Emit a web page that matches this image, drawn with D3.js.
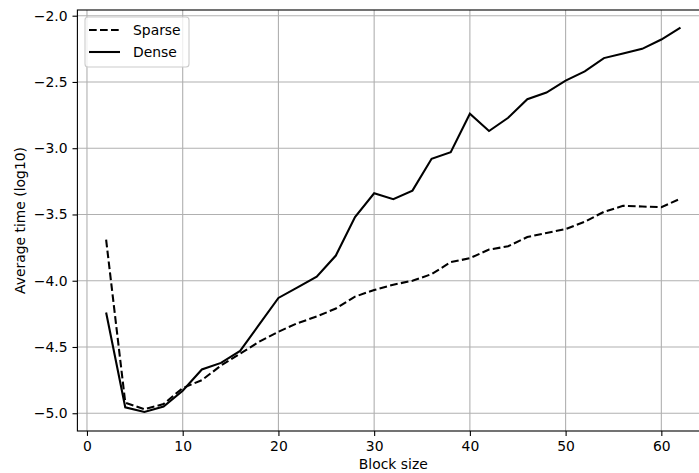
<!DOCTYPE html>
<html><head><meta charset="utf-8">
<script src="https://cdn.jsdelivr.net/npm/d3@7"></script>
<style>body{margin:0;background:#fff;} svg{display:block;font-family:"DejaVu Sans",sans-serif;}</style>
</head><body>
<svg id="c" width="699" height="473"></svg>
<script>
const blockSizes = [2,4,6,8,10,12,14,16,18,20,22,24,26,28,30,32,34,36,38,40,42,44,46,48,50,52,54,56,58,60,62];
const sparse = [-3.69,-4.92,-4.97,-4.93,-4.81,-4.75,-4.64,-4.55,-4.46,-4.385,-4.32,-4.27,-4.21,-4.12,-4.07,-4.03,-4.00,-3.95,-3.86,-3.83,-3.765,-3.74,-3.67,-3.64,-3.61,-3.555,-3.48,-3.435,-3.44,-3.445,-3.38];
const dense = [-4.24,-4.955,-4.99,-4.95,-4.83,-4.67,-4.62,-4.53,-4.33,-4.13,-4.05,-3.97,-3.81,-3.52,-3.34,-3.385,-3.32,-3.08,-3.03,-2.74,-2.87,-2.77,-2.63,-2.58,-2.49,-2.42,-2.32,-2.285,-2.25,-2.18,-2.09];
const xTicks = [0,10,20,30,40,50,60];
const yTicks = [-5.0,-4.5,-4.0,-3.5,-3.0,-2.5,-2.0];
const seriesNames = ["Sparse","Dense"];

const svg = d3.select("#c");
const L = 77.4, R = 709.2, T = 10, B = 431;
const x = d3.scaleLinear().domain([-1, 65]).range([L, R]);
const y = d3.scaleLinear().domain([-5.134, -1.957]).range([B, T]);
const fs = "13.9px";
const fmt = v => d3.format(".1f")(v).replace("-", "\u2212");

// grid
const g = svg.append("g");
g.selectAll(".gx").data(xTicks).enter().append("line")
  .attr("x1", d => x(d)).attr("x2", d => x(d)).attr("y1", T).attr("y2", B)
  .attr("stroke", "#b0b0b0").attr("stroke-width", 1.1);
g.selectAll(".gy").data(yTicks).enter().append("line")
  .attr("x1", L).attr("x2", R).attr("y1", d => y(d)).attr("y2", d => y(d))
  .attr("stroke", "#b0b0b0").attr("stroke-width", 1.1);

// axes
const xAxis = d3.axisBottom(x).tickValues(xTicks).tickSize(4.9).tickPadding(4.9).tickFormat(d3.format("d"));
const yAxis = d3.axisLeft(y).tickValues(yTicks).tickSize(4.9).tickPadding(4.9).tickFormat(fmt);
const ax = svg.append("g").attr("transform", `translate(0,${B})`).call(xAxis);
const ay = svg.append("g").attr("transform", `translate(${L},0)`).call(yAxis);
[ax, ay].forEach(a => {
  a.select(".domain").remove();
  a.selectAll("line").attr("stroke", "#000").attr("stroke-width", 1.1);
  a.selectAll("text").attr("font-size", fs).attr("fill", "#000").attr("font-family", "DejaVu Sans");
});

// lines
const line = vals => d3.line().x((d, i) => x(blockSizes[i])).y(d => y(d))(vals);
svg.append("path").attr("d", line(sparse)).attr("fill", "none").attr("stroke", "#000")
  .attr("stroke-width", 2.08).attr("stroke-dasharray", "7.7,3.3");
svg.append("path").attr("d", line(dense)).attr("fill", "none").attr("stroke", "#000")
  .attr("stroke-width", 2.08);

// spines
svg.append("rect").attr("x", L).attr("y", T).attr("width", R - L).attr("height", B - T)
  .attr("fill", "none").attr("stroke", "#000").attr("stroke-width", 1.1);

// labels
svg.append("text").attr("x", (L + R) / 2).attr("y", 469).attr("text-anchor", "middle")
  .attr("font-size", fs).text("Block size");
svg.append("text").attr("transform", `translate(25,${(T + B) / 2}) rotate(-90)`)
  .attr("text-anchor", "middle").attr("font-size", fs).text("Average time (log10)");

// legend
const lg = svg.append("g");
lg.append("rect").attr("x", 85).attr("y", 17).attr("width", 104).attr("height", 50).attr("rx", 3)
  .attr("fill", "#fff").attr("fill-opacity", 0.8).attr("stroke", "#cccccc").attr("stroke-width", 1.1);
seriesNames.forEach((name, i) => {
  const yy = 30 + i * 22;
  lg.append("line").attr("x1", 89).attr("x2", 120).attr("y1", yy).attr("y2", yy)
    .attr("stroke", "#000").attr("stroke-width", 2.08)
    .attr("stroke-dasharray", i === 0 ? "7.7,3.3" : null);
  lg.append("text").attr("x", 133).attr("y", yy + 5).attr("font-size", fs).text(name);
});
</script>
</body></html>
